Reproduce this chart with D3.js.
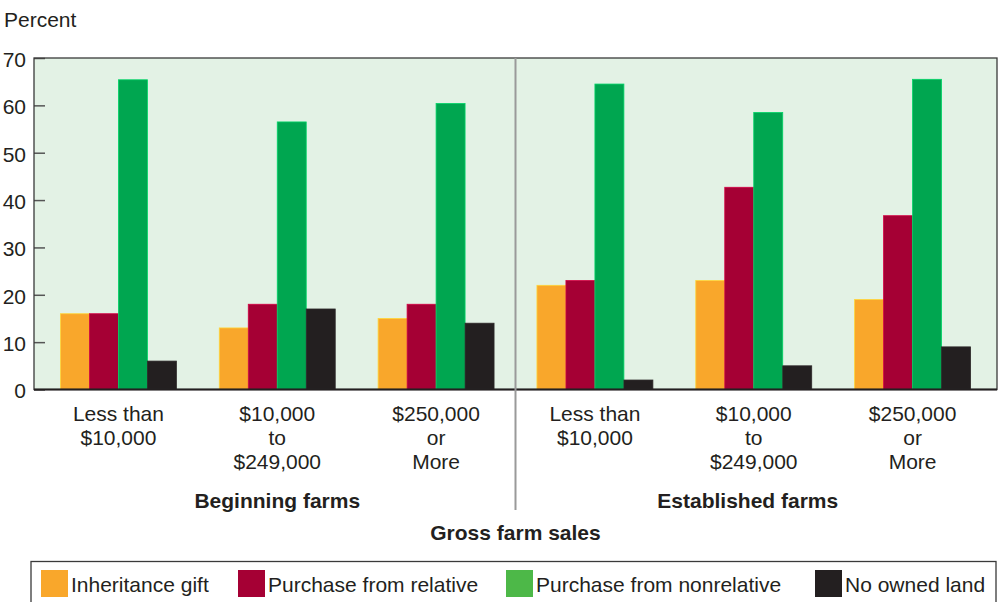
<!DOCTYPE html>
<html>
<head>
<meta charset="utf-8">
<script src="https://cdn.jsdelivr.net/npm/d3@7"></script>
<style>
  body { margin: 0; background: #fff; }
  svg { display: block; font-family: "Liberation Sans", Arial, sans-serif; }
</style>
</head>
<body>
<svg id="chart" width="1003" height="602"></svg>
<script>
// ---- Data ----
const groupKeys = ["b1", "b2", "b3", "e1", "e2", "e3"];
const groupLabels = [
  ["Less than", "$10,000"],
  ["$10,000", "to", "$249,000"],
  ["$250,000", "or", "More"],
  ["Less than", "$10,000"],
  ["$10,000", "to", "$249,000"],
  ["$250,000", "or", "More"]
];
const panels = ["Beginning farms", "Established farms"];
const seriesNames = ["Inheritance gift", "Purchase from relative", "Purchase from nonrelative", "No owned land"];
const inheritanceGift = [16, 13, 15, 22, 23, 19];
const purchaseRelative = [16, 18, 18, 23, 42.7, 36.7];
const purchaseNonrelative = [65.4, 56.5, 60.4, 64.5, 58.5, 65.5];
const noOwnedLand = [6, 17, 14, 2, 5, 9];
const yTicks = [0, 10, 20, 30, 40, 50, 60, 70];
const yLabel = "Percent";
const xTitle = "Gross farm sales";

const seriesValues = [inheritanceGift, purchaseRelative, purchaseNonrelative, noOwnedLand];
const barColors = ["#F9A72B", "#A50034", "#00A650", "#231F20"];
const legendColors = ["#F9A72B", "#A50034", "#4DB848", "#231F20"];

// ---- Layout ----
const svg = d3.select("#chart");
const pl = 34, pr = 997, pt = 58, pb = 389.5;
const textColor = "#231F20";
const fs = "21px";

const y = d3.scaleLinear().domain([0, 70]).range([pb, pt]);
const x0 = d3.scaleBand().domain(groupKeys).range([pl + 5, pr - 5]).paddingInner(0).paddingOuter(0);
const x1 = d3.scaleBand().domain(seriesNames).range([0, x0.bandwidth()]).paddingInner(0).paddingOuter(0.74);

// Plot background
svg.append("rect")
  .attr("x", pl).attr("y", pt)
  .attr("width", pr - pl).attr("height", pb - pt)
  .attr("fill", "#E3F2E5");

// Y axis with inner ticks
const yAxis = d3.axisLeft(y).tickValues(yTicks).tickSizeInner(-11).tickSizeOuter(0).tickPadding(8);
const gy = svg.append("g").attr("transform", `translate(${pl},0)`).call(yAxis);
gy.select(".domain").remove();
gy.selectAll(".tick line").attr("stroke", "#555").attr("stroke-width", 1.5);
gy.selectAll(".tick text")
  .attr("x", -8)
  .attr("dy", "0.4em")
  .attr("fill", textColor)
  .style("font-size", fs)
  .style("font-family", "Liberation Sans, Arial, sans-serif");

// Bars
const rows = groupKeys.map((k, i) => ({ key: k, vals: seriesNames.map((s, j) => ({ s, j, v: seriesValues[j][i] })) }));
const gGroups = svg.append("g").selectAll("g").data(rows).join("g")
  .attr("transform", d => `translate(${x0(d.key)},0)`);
gGroups.selectAll("rect").data(d => d.vals).join("rect")
  .attr("x", d => x1(d.s))
  .attr("y", d => y(d.v))
  .attr("width", x1.bandwidth())
  .attr("height", d => y(0) - y(d.v))
  .attr("fill", d => barColors[d.j])
  .attr("stroke", d => d3.color(barColors[d.j]).brighter(0.7))
  .attr("stroke-width", 0.8);

// Plot border
svg.append("rect")
  .attr("x", pl).attr("y", pt)
  .attr("width", pr - pl).attr("height", pb - pt)
  .attr("fill", "none")
  .attr("stroke", "#3a3a3a")
  .attr("stroke-width", 1.3);
svg.append("line")
  .attr("x1", pl).attr("x2", pr).attr("y1", pb).attr("y2", pb)
  .attr("stroke", "#231F20").attr("stroke-width", 2);

// Divider between panels
const divX = (x0("b3") + x0.bandwidth() + x0("e1")) / 2;
svg.append("line")
  .attr("x1", divX).attr("x2", divX)
  .attr("y1", pt).attr("y2", 510)
  .attr("stroke", "#9a9a9a").attr("stroke-width", 2);

// Category labels
groupKeys.forEach((k, i) => {
  const cx = x0(k) + x0.bandwidth() / 2;
  const t = svg.append("text")
    .attr("x", cx).attr("y", 421)
    .attr("text-anchor", "middle")
    .attr("fill", textColor)
    .style("font-size", fs);
  groupLabels[i].forEach((line, li) => {
    t.append("tspan").attr("x", cx).attr("dy", li === 0 ? 0 : 24).text(line);
  });
});

// Panel labels
const panelCenters = [
  (x0("b1") + x0("b3") + x0.bandwidth()) / 2,
  (x0("e1") + x0("e3") + x0.bandwidth()) / 2 - 6
];
panels.forEach((p, i) => {
  svg.append("text")
    .attr("x", panelCenters[i]).attr("y", 508)
    .attr("text-anchor", "middle")
    .attr("fill", textColor)
    .style("font-size", fs)
    .style("font-weight", "bold")
    .text(p);
});

// X title
svg.append("text")
  .attr("x", divX).attr("y", 540)
  .attr("text-anchor", "middle")
  .attr("fill", textColor)
  .style("font-size", fs)
  .style("font-weight", "bold")
  .text(xTitle);

// Y label
svg.append("text")
  .attr("x", 4).attr("y", 27)
  .attr("fill", textColor)
  .style("font-size", fs)
  .text(yLabel);

// Legend
svg.append("rect")
  .attr("x", 31).attr("y", 561.5)
  .attr("width", 965).attr("height", 50)
  .attr("fill", "#fff")
  .attr("stroke", "#3a3a3a").attr("stroke-width", 1.3);
const legendX = [41, 238, 506, 815];
seriesNames.forEach((s, i) => {
  svg.append("rect")
    .attr("x", legendX[i]).attr("y", 570)
    .attr("width", 27).attr("height", 27)
    .attr("fill", legendColors[i]);
  svg.append("text")
    .attr("x", legendX[i] + 30).attr("y", 591.5)
    .attr("fill", textColor)
    .style("font-size", fs)
    .text(s);
});
</script>
</body>
</html>
